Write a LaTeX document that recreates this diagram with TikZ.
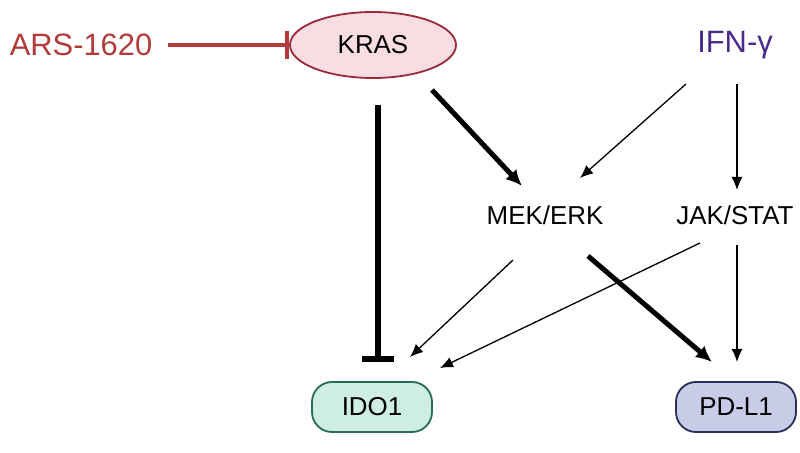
\documentclass[tikz,border=0pt]{standalone}
\usepackage{fontspec}
\setmainfont{Liberation Sans}
\usetikzlibrary{arrows.meta,shapes.geometric}
\definecolor{ars}{HTML}{B23A3A}
\definecolor{ifn}{HTML}{4A2A8A}
\definecolor{krasf}{HTML}{F9DDE3}
\definecolor{krasd}{HTML}{9A2A3A}
\definecolor{idof}{HTML}{CDEEE0}
\definecolor{idod}{HTML}{2A6A5A}
\definecolor{pdf}{HTML}{C8CCE6}
\definecolor{pdd}{HTML}{2A2F5A}
\begin{document}
\begin{tikzpicture}[x=1bp,y=-1bp,
  lbl/.style={font=\fontsize{26}{28}\selectfont},
  tarr/.style={-{Latex[length=13bp,width=11bp]},line width=1.3bp},
  karr/.style={-{Latex[length=16bp,width=15bp]},line width=5bp},
  rbox/.style={draw,line width=1.8bp,rounded corners=20bp,minimum width=120bp,minimum height=50bp,font=\fontsize{26}{28}\selectfont}]
\useasboundingbox (0,0) rectangle (800,453);
\node[text=ars,font=\fontsize{31}{33}\selectfont] (ars) at (81,45) {ARS-1620};
\node[draw=krasd,fill=krasf,ellipse,line width=1.8bp,minimum width=166bp,minimum height=66bp,lbl] (kras) at (373,45) {KRAS};
\node[text=ifn,font=\fontsize{31}{33}\selectfont] (ifn) at (735,45) {IFN-γ};
\node[lbl] (mek) at (545,215) {MEK/ERK};
\node[lbl] (jak) at (735,215) {JAK/STAT};
\node[rbox,draw=idod,fill=idof] (ido) at (372,407) {IDO1};
\node[rbox,draw=pdd,fill=pdf] (pd) at (736,407) {PD-L1};
\coordinate (a1) at (168,45);
\coordinate (k1) at (378,105);
\coordinate (k2) at (378,362);
\coordinate (k3) at (432,90);
\coordinate (m1) at (522,186);
\coordinate (i1) at (686,84);
\coordinate (m2) at (580,178);
\coordinate (i2) at (737,84);
\coordinate (j1) at (737,190);
\coordinate (m3) at (513,260);
\coordinate (d1) at (410,357);
\coordinate (j2) at (700,243);
\coordinate (d2) at (440,368);
\coordinate (m4) at (588,256);
\coordinate (p1) at (712,362);
\coordinate (j3) at (737,245);
\coordinate (p2) at (737,362);
\draw[ars,line width=4.5bp,-{Bar[width=28bp,line width=4.5bp]}] (a1) -- (kras.west);
\draw[line width=5.5bp,-{Bar[width=32bp,line width=5.5bp]}] (k1) -- (k2);
\draw[karr] (k3) -- (m1);
\draw[tarr] (i1) -- (m2);
\draw[tarr] (i2) -- (j1);
\draw[tarr] (m3) -- (d1);
\draw[tarr] (j2) -- (d2);
\draw[karr] (m4) -- (p1);
\draw[tarr] (j3) -- (p2);
\end{tikzpicture}
\end{document}
